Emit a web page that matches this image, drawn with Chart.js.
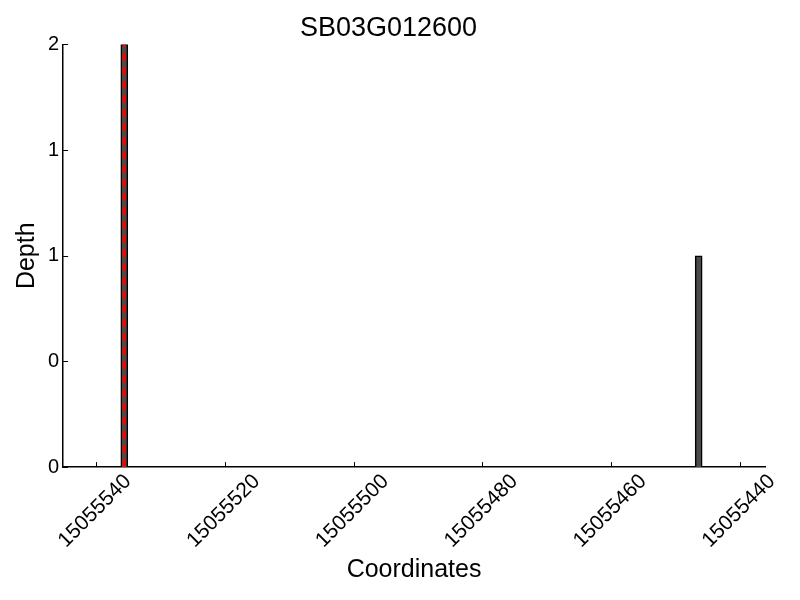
<!DOCTYPE html>
<html>
<head>
<meta charset="utf-8">
<script src="https://cdn.jsdelivr.net/npm/chart.js@4/dist/chart.umd.min.js"></script>
<style>
  body { margin: 0; background: #fff; }
  #wrap { width: 800px; height: 600px; }
</style>
</head>
<body>
<div id="wrap"><canvas id="myChart" width="800" height="600"></canvas></div>
<script>
// datos
var coords = [15055535.6, 15055446.4];
var depths = [2, 1];
var markerCoord = [15055535.6, 15055535.6];
var markerDepth = [0, 2];
var xTicks = [15055540, 15055520, 15055500, 15055480, 15055460, 15055440];
var yTicks = [0, 0.5, 1, 1.5, 2];
var yTickLabels = ["0", "0", "1", "1", "2"];

var FONT = "'Liberation Sans', Arial, sans-serif";

// ticks hacia adentro, como en la figura original
var inwardTicks = {
    id: "inwardTicks",
    afterDatasetsDraw: function(chart){
        var ctx = chart.ctx;
        var xs = chart.scales.x, ys = chart.scales.y;
        var area = chart.chartArea;
        ctx.save();
        ctx.strokeStyle = "#000";
        ctx.lineWidth = 1;
        ctx.beginPath();
        xTicks.forEach(function(v){
            var px = Math.round(xs.getPixelForValue(v)) + 0.5;
            ctx.moveTo(px, area.bottom);
            ctx.lineTo(px, area.bottom - 5);
        });
        yTicks.forEach(function(v){
            var py = Math.round(ys.getPixelForValue(v)) + 0.5;
            ctx.moveTo(area.left, py);
            ctx.lineTo(area.left + 5, py);
        });
        ctx.stroke();
        ctx.restore();
    }
};

var ctx = document.getElementById("myChart");
var chart = new Chart(ctx, {
    type: "bar",
    data: {
        datasets: [
            {
                type: "line",
                data: markerCoord.map(function(x, i){ return {x: x, y: markerDepth[i]}; }),
                borderColor: "#ff0000",
                borderWidth: 3,
                borderDash: [8, 6],
                pointRadius: 0,
                fill: false,
                order: -1
            },
            {
                data: coords.map(function(x, i){ return {x: x, y: depths[i]}; }),
                backgroundColor: "#4a4a4a",
                borderColor: "#000",
                borderWidth: 1.5,
                barThickness: 7,
                order: 1
            }
        ]
    },
    options: {
        responsive: false,
        animation: false,
        layout: { padding: { left: 12, right: 35, top: 5, bottom: 11 } },
        plugins: {
            legend: { display: false },
            tooltip: { enabled: false },
            title: {
                display: true,
                text: "SB03G012600",
                color: "#000",
                font: { family: FONT, size: 27, weight: "normal" },
                padding: { top: 7, bottom: 0 }
            }
        },
        scales: {
            x: {
                type: "linear",
                reverse: true,
                offset: false,
                min: 15055436.1,
                max: 15055545.1,
                afterBuildTicks: function(axis){
                    axis.ticks = xTicks.map(function(v){ return {value: v}; });
                },
                // sin relleno extra por las etiquetas giradas
                afterFit: function(axis){
                    axis.paddingLeft = 0;
                    axis.paddingRight = 0;
                },
                grid: { display: false, drawTicks: false, offset: false },
                border: { display: true, color: "#000", width: 1.5 },
                ticks: {
                    color: "#000",
                    font: { family: FONT, size: 21 },
                    minRotation: 45,
                    maxRotation: 45,
                    labelOffset: 32,
                    padding: 2,
                    callback: function(v){ return String(v); }
                },
                title: {
                    display: true,
                    text: "Coordinates",
                    color: "#000",
                    font: { family: FONT, size: 25 },
                    padding: { top: 0 }
                }
            },
            y: {
                min: 0,
                max: 2,
                afterBuildTicks: function(axis){
                    axis.ticks = yTicks.map(function(v){ return {value: v}; });
                },
                grid: { display: false, drawTicks: false },
                border: { display: true, color: "#000", width: 1.5 },
                ticks: {
                    color: "#000",
                    font: { family: FONT, size: 20 },
                    padding: 4,
                    callback: function(v){ return yTickLabels[yTicks.indexOf(v)]; }
                },
                title: {
                    display: true,
                    text: "Depth",
                    color: "#000",
                    font: { family: FONT, size: 25 },
                    padding: { top: 0, bottom: 2 }
                }
            }
        }
    },
    plugins: [inwardTicks]
});
</script>
</body>
</html>
